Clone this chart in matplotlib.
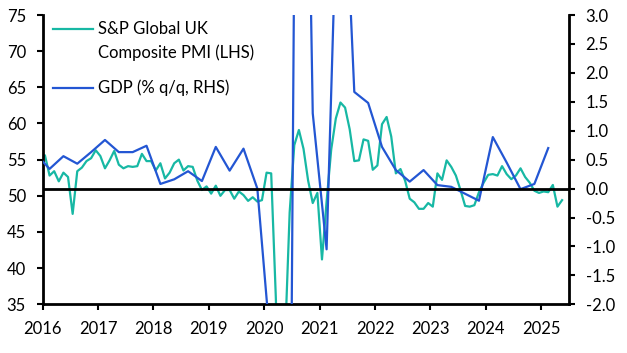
import numpy as np
import pandas as pd
import matplotlib
matplotlib.use("Agg")
import matplotlib.pyplot as plt

plt.rcParams["font.family"] = ["Lato", "DejaVu Sans"]

TEAL = "#17b8a4"
BLUE = "#2356d3"
FS = 12

# S&P Global UK composite PMI, monthly, Dec 2015 - May 2025
pmi_start = "2015-12"
pmi = [
    55.0,
    55.6, 52.8, 53.4, 52.0, 53.2, 52.6, 47.5, 53.4, 53.9, 54.8, 55.2, 56.3,
    55.5, 53.8, 54.9, 56.2, 54.3, 53.8, 54.1, 54.0, 54.1, 55.8, 54.8, 54.8,
    53.5, 54.5, 52.4, 53.2, 54.5, 55.0, 53.5, 54.1, 54.0, 52.1, 50.8, 51.3,
    50.3, 51.4, 50.0, 50.8, 50.8, 49.6, 50.6, 50.1, 49.3, 49.8, 49.2, 49.4,
    53.2, 53.1, 36.0, 13.8, 30.0, 47.7, 57.0, 59.1, 56.5, 52.1, 49.0, 50.4,
    41.2, 49.2, 56.4, 60.7, 62.9, 62.2, 59.2, 54.8, 54.9, 57.8, 57.6, 53.6,
    54.2, 59.9, 60.9, 58.2, 53.1, 53.7, 52.1, 49.6, 49.1, 48.2, 48.2, 49.0,
    48.5, 53.1, 52.2, 54.9, 54.0, 52.8, 50.8, 48.6, 48.5, 48.7, 50.5, 51.8,
    52.9, 53.0, 52.8, 54.1, 53.0, 52.3, 52.8, 53.8, 52.6, 51.8, 50.7, 50.4,
    50.6, 50.5, 51.5, 48.5, 49.4,
]

# GDP, % q/q, quarterly, 2015Q4 - 2025Q1
gdp_start = "2015Q4"
gdp = [
    0.60,
    0.34, 0.56, 0.43, 0.63,
    0.84, 0.63, 0.63, 0.74,
    0.08, 0.16, 0.30, 0.13,
    0.72, 0.31, 0.69, 0.00,
    -2.85, -18.5, 15.5, 1.30,
    -1.05, 7.1, 1.67, 1.48,
    0.72, 0.32, 0.12, 0.32,
    0.06, 0.03, -0.09, -0.21,
    0.89, 0.45, -0.01, 0.08,
    0.70,
]

years = list(range(2016, 2026))
pmi_ticks = list(range(35, 80, 5))
gdp_ticks = np.arange(-2.0, 3.01, 0.5)

# plot at the middle of each month / quarter, as fractional years
m = pd.period_range(pmi_start, periods=len(pmi), freq="M")
x_pmi = m.year + (m.month - 0.5) / 12
q = pd.period_range(gdp_start, periods=len(gdp), freq="Q")
x_gdp = q.year + (3 * q.quarter - 1.5) / 12

fig = plt.figure(figsize=(6.27, 3.53), dpi=100)
ax = fig.add_axes([0.068, 0.138, 0.8395, 0.8195])
ax2 = ax.twinx()

ax.plot(x_pmi, pmi, color=TEAL, lw=1.6, zorder=2)
ax2.plot(x_gdp, gdp, color=BLUE, lw=1.6, zorder=2)
ax2.axhline(0, color="black", lw=2, zorder=5)

ax.set_xlim(2016, 2025.5)
ax.set_ylim(35, 75)
ax2.set_ylim(-2, 3)
ax.set_xticks(years)
ax.set_xticklabels([str(y) for y in years])
ax.set_yticks(pmi_ticks)
ax2.set_yticks(gdp_ticks)
ax2.set_yticklabels([f"{v:.1f}" for v in gdp_ticks])

for a in (ax, ax2):
    a.spines["top"].set_visible(False)
    for s in a.spines.values():
        s.set_linewidth(2)
ax.spines["right"].set_visible(False)
ax2.spines["left"].set_visible(False)
ax2.spines["bottom"].set_visible(False)

ax.tick_params(axis="y", direction="out", length=4, width=1.5,
               labelsize=FS, pad=8)
ax.tick_params(axis="x", direction="out", length=4, width=1.5,
               labelsize=FS, pad=8)
ax2.tick_params(axis="y", direction="out", length=4, width=1.5,
                labelsize=FS, pad=8)

# legend drawn by hand so the handle sits on the first text line
ax2.plot([0.020, 0.096], [0.951, 0.951], color=TEAL, lw=1.6,
         transform=ax2.transAxes, clip_on=False)
ax2.plot([0.020, 0.096], [0.747, 0.747], color=BLUE, lw=1.6,
         transform=ax2.transAxes, clip_on=False)
ax2.text(0.106, 0.951, "S&P Global UK", transform=ax2.transAxes,
         fontsize=FS, va="center", ha="left")
ax2.text(0.106, 0.868, "Composite PMI (LHS)", transform=ax2.transAxes,
         fontsize=FS, va="center", ha="left")
ax2.text(0.106, 0.747, "GDP (% q/q, RHS)", transform=ax2.transAxes,
         fontsize=FS, va="center", ha="left")

fig.savefig("out.png", dpi=100)
